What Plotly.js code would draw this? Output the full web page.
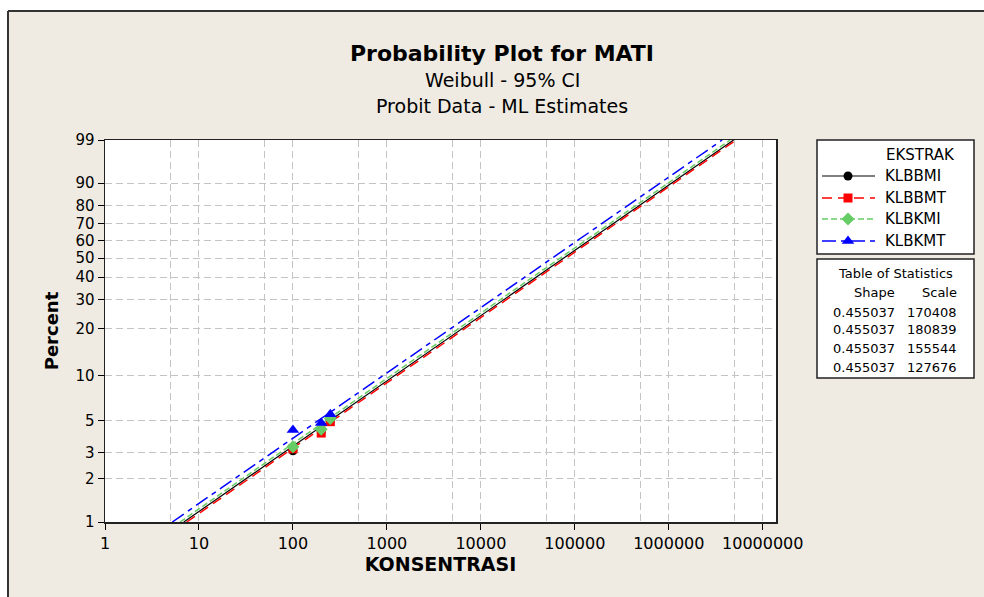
<!DOCTYPE html>
<html>
<head>
<meta charset="utf-8">
<script src="https://cdn.plot.ly/plotly-3.0.1.min.js"></script>
<style>html,body{margin:0;padding:0;background:#fff;}#chart{width:984px;height:597px;}</style>
</head>
<body>
<div id="chart"></div>
<script>
// ---- data ----
const seriesNames = ['KLBBMI', 'KLBBMT', 'KLBKMI', 'KLBKMT'];
const concentrations = [100, 200, 250];
const pctKLBBMI = [3.1, 4.2, 5.0];
const pctKLBBMT = [3.2, 4.1, 4.9];
const pctKLBKMI = [3.3, 4.35, 5.15];
const pctKLBKMT = [4.3, 4.8, 5.5];
// fitted line: concentration at 1 % and at 99 %
const fitPct = [1, 99];
const fitLowX = [6.9, 7.4, 6.3, 5.2];
const fitHighX = [4.9e6, 5.2e6, 4.5e6, 3.7e6];
// table of statistics
const shapeParam = [0.455037, 0.455037, 0.455037, 0.455037];
const scaleParam = [170408, 180839, 155544, 127676];
// axes
const yTickPct = [1, 2, 3, 5, 10, 20, 30, 40, 50, 60, 70, 80, 90, 99];
const xTickVals = [1, 10, 100, 1000, 10000, 100000, 1000000, 10000000];
const xTickText = ['1', '10', '100', '1000', '10000', '100000', '1000000', '10000000'];
const xMinorGrid = [5, 50, 500, 5000, 50000, 500000, 5000000];

// ---- styles ----
const colors = ['#000000', '#ff0000', '#66cc66', '#0000ff'];
const dashes = ['solid', '10px,6px', '6px,3px', '14px,5px,5px,5px'];
const widths = [1.2, 1.5, 1.5, 1.5];
const symbols = ['circle', 'square', 'diamond', 'triangle-up'];
const msizes = [9, 9, 10, 11];
const pctSeries = [pctKLBBMI, pctKLBBMT, pctKLBKMI, pctKLBKMT];

// Weibull probability scale
const wb = p => Math.log(-Math.log(1 - p / 100));

const W = 984, H = 597;
const px = v => v / W;
const py = v => 1 - v / H;

const FONT = 'DejaVu Sans, Verdana, sans-serif';
const traces = [];
seriesNames.forEach((n, i) => {
  traces.push({
    x: [fitLowX[i], fitHighX[i]], y: fitPct.map(wb),
    mode: 'lines', line: {color: colors[i], width: widths[i], dash: dashes[i]},
    hoverinfo: 'skip', showlegend: false, xaxis: 'x', yaxis: 'y'
  });
});
seriesNames.forEach((n, i) => {
  traces.push({
    x: concentrations, y: pctSeries[i].map(wb), name: n,
    mode: 'markers', marker: {color: colors[i], symbol: symbols[i], size: msizes[i]},
    showlegend: false, xaxis: 'x', yaxis: 'y'
  });
});
// custom legend samples (in legend box coordinates)
const legRows = [36, 58, 79, 101];
seriesNames.forEach((n, i) => {
  traces.push({
    x: [5, 58], y: [legRows[i], legRows[i]], mode: 'lines',
    line: {color: colors[i], width: widths[i], dash: dashes[i]},
    hoverinfo: 'skip', showlegend: false, xaxis: 'x2', yaxis: 'y2'
  });
  traces.push({
    x: [31], y: [legRows[i]], mode: 'markers',
    marker: {color: colors[i], symbol: symbols[i], size: msizes[i]},
    hoverinfo: 'skip', showlegend: false, xaxis: 'x2', yaxis: 'y2'
  });
});

const annotations = [
  {text: 'Weibull - 95% CI', x: px(502), y: py(80), xref: 'paper', yref: 'paper', showarrow: false, xanchor: 'center', yanchor: 'middle', font: {family: FONT, size: 19, color: '#000'}},
  {text: 'Probit Data - ML Estimates', x: px(502), y: py(106), xref: 'paper', yref: 'paper', showarrow: false, xanchor: 'center', yanchor: 'middle', font: {family: FONT, size: 19, color: '#000'}},
  {text: 'EKSTRAK', x: 67, y: 15, xref: 'x2', yref: 'y2', showarrow: false, xanchor: 'left', yanchor: 'middle', font: {family: FONT, size: 15, color: '#000'}},
  {text: 'Table of Statistics', x: px(895), y: py(273), xref: 'paper', yref: 'paper', showarrow: false, xanchor: 'center', yanchor: 'middle', font: {family: FONT, size: 13, color: '#000'}},
  {text: 'Shape', x: px(897), y: py(292), xref: 'paper', yref: 'paper', showarrow: false, xanchor: 'right', yanchor: 'middle', font: {family: FONT, size: 13, color: '#000'}},
  {text: 'Scale', x: px(959), y: py(292), xref: 'paper', yref: 'paper', showarrow: false, xanchor: 'right', yanchor: 'middle', font: {family: FONT, size: 13, color: '#000'}}
];
seriesNames.forEach((n, i) => {
  annotations.push({text: n, x: 66, y: legRows[i], xref: 'x2', yref: 'y2', showarrow: false, xanchor: 'left', yanchor: 'middle', font: {family: FONT, size: 15, color: '#000'}});
});
const tableRows = [312, 330, 348, 367];
shapeParam.forEach((s, i) => {
  annotations.push({text: s.toFixed(6), x: px(897), y: py(tableRows[i]), xref: 'paper', yref: 'paper', showarrow: false, xanchor: 'right', yanchor: 'middle', font: {family: FONT, size: 13, color: '#000'}});
  annotations.push({text: String(scaleParam[i]), x: px(959), y: py(tableRows[i]), xref: 'paper', yref: 'paper', showarrow: false, xanchor: 'right', yanchor: 'middle', font: {family: FONT, size: 13, color: '#000'}});
});

const shapes = [
  // white strips outside the frame
  {type: 'rect', xref: 'paper', yref: 'paper', x0: 0, x1: px(8), y0: 0, y1: 1, fillcolor: '#ffffff', line: {width: 0}, layer: 'below'},
  {type: 'rect', xref: 'paper', yref: 'paper', x0: 0, x1: 1, y0: py(11), y1: 1, fillcolor: '#ffffff', line: {width: 0}, layer: 'below'},
  {type: 'line', xref: 'paper', yref: 'paper', x0: px(8), x1: 1, y0: py(11), y1: py(11), line: {color: '#333333', width: 2}},
  {type: 'line', xref: 'paper', yref: 'paper', x0: px(8), x1: px(8), y0: py(11), y1: 0, line: {color: '#333333', width: 2}},
  // legend and table boxes
  {type: 'rect', xref: 'paper', yref: 'paper', x0: px(817), x1: px(974), y0: py(254), y1: py(140), fillcolor: '#ffffff', line: {color: '#222222', width: 1.5}, layer: 'below'},
  {type: 'rect', xref: 'paper', yref: 'paper', x0: px(817), x1: px(974), y0: py(378), y1: py(259), fillcolor: '#ffffff', line: {color: '#222222', width: 1.5}, layer: 'below'}
];

const layout = {
  width: W, height: H,
  margin: {l: 0, r: 0, t: 0, b: 0},
  paper_bgcolor: '#efebe2',
  plot_bgcolor: '#ffffff',
  showlegend: false,
  font: {family: FONT, color: '#000'},
  title: {text: '<b>Probability Plot for MATI</b>', x: px(502), xanchor: 'center', xref: 'paper', y: py(53), yanchor: 'middle', yref: 'paper', font: {family: FONT, size: 22, color: '#000'}},
  xaxis: {
    type: 'log', domain: [px(105), px(776)], range: [0, 7.141],
    tickmode: 'array', tickvals: xTickVals, ticktext: xTickText,
    ticks: 'outside', ticklen: 6, tickwidth: 1, tickcolor: '#000',
    tickfont: {family: FONT, size: 16, color: '#000'},
    showgrid: true, gridcolor: '#c4c4c4', gridwidth: 1, griddash: '7px,4px',
    minor: {tickmode: 'array', tickvals: xMinorGrid, ticks: '', showgrid: true, gridcolor: '#c4c4c4', gridwidth: 1, griddash: '7px,4px'},
    showline: true, mirror: true, linecolor: '#222', linewidth: 1.5,
    zeroline: false, fixedrange: true, anchor: 'y',
    title: {text: '<b>KONSENTRASI</b>', standoff: 6, font: {family: FONT, size: 19, color: '#000'}}
  },
  yaxis: {
    domain: [1 - 522 / H, 1 - 140 / H], range: [wb(1), wb(99)],
    tickmode: 'array', tickvals: yTickPct.map(wb), ticktext: yTickPct.map(String),
    ticks: 'outside', ticklen: 6, tickwidth: 1, tickcolor: '#000',
    tickfont: {family: FONT, size: 15, color: '#000'},
    showgrid: true, gridcolor: '#c4c4c4', gridwidth: 1, griddash: '7px,4px',
    showline: true, mirror: true, linecolor: '#222', linewidth: 1.5,
    zeroline: false, fixedrange: true, anchor: 'x',
    title: {text: '<b>Percent</b>', standoff: 12, font: {family: FONT, size: 18, color: '#000'}}
  },
  xaxis2: {domain: [px(817), px(974)], range: [0, 157], visible: false, fixedrange: true, anchor: 'y2'},
  yaxis2: {domain: [py(254), py(140)], range: [114, 0], visible: false, fixedrange: true, anchor: 'x2'},
  annotations: annotations,
  shapes: shapes
};

Plotly.newPlot('chart', traces, layout, {displayModeBar: false, staticPlot: true});
</script>
</body>
</html>
